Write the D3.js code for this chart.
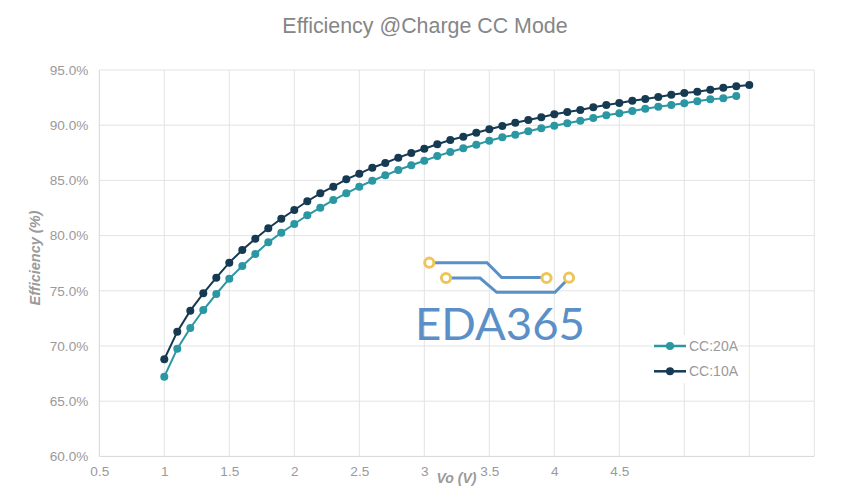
<!DOCTYPE html>
<html>
<head>
<meta charset="utf-8">
<script src="https://cdn.jsdelivr.net/npm/d3@7"></script>
<style>
  html, body { margin: 0; padding: 0; background: #ffffff; }
  svg { display: block; }
  text { font-family: "Liberation Sans", Arial, sans-serif; }
</style>
</head>
<body>
<div id="chart"></div>
<script>
// ---- data ----
const titleText = "Efficiency @Charge CC Mode";
const xTitle = "Vo (V)";
const yTitle = "Efficiency (%)";

const xTickValues = [0.5, 1, 1.5, 2, 2.5, 3, 3.5, 4, 4.5];
const xGridValues = [0.5, 1, 1.5, 2, 2.5, 3, 3.5, 4, 4.5, 5, 5.5, 6];
const yTickValues = [60, 65, 70, 75, 80, 85, 90, 95];

const vo10A = [1.0, 1.1, 1.2, 1.3, 1.4, 1.5, 1.6, 1.7, 1.8, 1.9, 2.0, 2.1, 2.2, 2.3, 2.4, 2.5,
  2.6, 2.7, 2.8, 2.9, 3.0, 3.1, 3.2, 3.3, 3.4, 3.5, 3.6, 3.7, 3.8, 3.9, 4.0, 4.1, 4.2, 4.3,
  4.4, 4.5, 4.6, 4.7, 4.8, 4.9, 5.0, 5.1, 5.2, 5.3, 5.4, 5.5];
const eff10A = [68.8, 71.3, 73.2, 74.77, 76.19, 77.55, 78.7, 79.72, 80.66, 81.53, 82.32, 83.11,
  83.83, 84.43, 85.1, 85.61, 86.15, 86.58, 87.06, 87.48, 87.87, 88.27, 88.66, 88.96, 89.32,
  89.63, 89.93, 90.23, 90.47, 90.72, 90.99, 91.2, 91.38, 91.62, 91.83, 92.01, 92.22, 92.37,
  92.55, 92.76, 92.92, 93.03, 93.22, 93.4, 93.52, 93.64];

const vo20A = [1.0, 1.1, 1.2, 1.3, 1.4, 1.5, 1.6, 1.7, 1.8, 1.9, 2.0, 2.1, 2.2, 2.3, 2.4, 2.5,
  2.6, 2.7, 2.8, 2.9, 3.0, 3.1, 3.2, 3.3, 3.4, 3.5, 3.6, 3.7, 3.8, 3.9, 4.0, 4.1, 4.2, 4.3,
  4.4, 4.5, 4.6, 4.7, 4.8, 4.9, 5.0, 5.1, 5.2, 5.3, 5.4];
const eff20A = [67.22, 69.76, 71.63, 73.26, 74.71, 76.1, 77.25, 78.33, 79.39, 80.26, 81.05,
  81.84, 82.53, 83.22, 83.83, 84.43, 84.97, 85.46, 85.94, 86.37, 86.78, 87.2, 87.57, 87.91,
  88.23, 88.6, 88.9, 89.14, 89.45, 89.72, 89.96, 90.17, 90.41, 90.65, 90.9, 91.08, 91.29,
  91.49, 91.68, 91.83, 91.98, 92.16, 92.34, 92.43, 92.64];

const seriesNames = ["CC:20A", "CC:10A"];
const seriesColors = ["#2a97a3", "#163a52"];

// ---- layout ----
const W = 843, H = 503;
const plot = { left: 99.3, right: 814.3, top: 70, bottom: 456.4 };

const svg = d3.select("#chart").append("svg")
  .attr("width", W).attr("height", H)
  .style("background", "#ffffff");

const x = d3.scaleLinear().domain([0.5, 6]).range([plot.left, plot.right]);
const y = d3.scaleLinear().domain([60, 95]).range([plot.bottom, plot.top]);

// gridlines
const grid = svg.append("g");
grid.selectAll("line.h").data(yTickValues).enter().append("line")
  .attr("x1", plot.left).attr("x2", plot.right)
  .attr("y1", d => y(d)).attr("y2", d => y(d))
  .attr("stroke", d => d === 60 ? "#d6d6d6" : "#e3e3e3").attr("stroke-width", 1);
grid.selectAll("line.v").data(xGridValues).enter().append("line")
  .attr("x1", d => x(d)).attr("x2", d => x(d))
  .attr("y1", plot.top).attr("y2", plot.bottom)
  .attr("stroke", d => d === 0.5 ? "#d6d6d6" : "#e3e3e3").attr("stroke-width", 1);

// axes (labels only)
const xAxis = d3.axisBottom(x).tickValues(xTickValues).tickSize(0).tickPadding(10)
  .tickFormat(d3.format(""));
const gx = svg.append("g").attr("transform", `translate(0,${plot.bottom})`).call(xAxis);
gx.select(".domain").remove();
gx.selectAll("text").attr("fill", "#9a9a9a").style("font-size", "13.6px")
  .style("font-family", "'Liberation Sans', Arial, sans-serif");

const yAxis = d3.axisLeft(y).tickValues(yTickValues).tickSize(0).tickPadding(11)
  .tickFormat(d => d3.format(".1f")(d) + "%");
const gy = svg.append("g").attr("transform", `translate(${plot.left},0)`).call(yAxis);
gy.select(".domain").remove();
gy.selectAll("text").attr("fill", "#9a9a9a").style("font-size", "13.6px")
  .style("font-family", "'Liberation Sans', Arial, sans-serif");

// watermark logo
const logo = svg.append("g");
const blue = "#5b8fc8", yellow = "#edc65a";
logo.append("path")
  .attr("d", "M429.3,262.7 L487,262.7 L501.7,277.5 L546,277.5")
  .attr("fill", "none").attr("stroke", blue).attr("stroke-width", 3);
logo.append("path")
  .attr("d", "M446,278 L480,278 L496.7,292.3 L555,292.3 L569,278")
  .attr("fill", "none").attr("stroke", blue).attr("stroke-width", 3);
[[429.3, 262.7], [446, 278], [546.5, 278], [569, 277.7]].forEach(p => {
  logo.append("circle").attr("cx", p[0]).attr("cy", p[1]).attr("r", 4.6)
    .attr("fill", "#ffffff").attr("stroke", yellow).attr("stroke-width", 3);
});
logo.append("text").attr("x", 415).attr("y", 340)
  .attr("textLength", 170).attr("lengthAdjust", "spacingAndGlyphs")
  .style("font-family", "Lato, 'Open Sans', sans-serif").style("font-size", "44px")
  .style("font-weight", "400").attr("fill", blue).text("EDA365");

// series
const series = [
  { name: seriesNames[0], color: seriesColors[0], xs: vo20A, ys: eff20A },
  { name: seriesNames[1], color: seriesColors[1], xs: vo10A, ys: eff10A }
];
const line = d3.line().x(d => x(d[0])).y(d => y(d[1]));
series.forEach(s => {
  const pts = s.xs.map((v, i) => [v, s.ys[i]]);
  const g = svg.append("g");
  g.append("path").datum(pts).attr("d", line)
    .attr("fill", "none").attr("stroke", s.color).attr("stroke-width", 2);
  g.selectAll("circle").data(pts).enter().append("circle")
    .attr("cx", d => x(d[0])).attr("cy", d => y(d[1])).attr("r", 4)
    .attr("fill", s.color);
});

// legend
const lg = svg.append("g");
lg.append("rect").attr("x", 652).attr("y", 335).attr("width", 86).attr("height", 48)
  .attr("fill", "#ffffff");
series.forEach((s, i) => {
  const ly = 346 + i * 25.3;
  lg.append("line").attr("x1", 654).attr("x2", 686).attr("y1", ly).attr("y2", ly)
    .attr("stroke", s.color).attr("stroke-width", 2.5);
  lg.append("circle").attr("cx", 670).attr("cy", ly).attr("r", 4).attr("fill", s.color);
  lg.append("text").attr("x", 689).attr("y", ly).attr("dy", "0.35em")
    .attr("fill", "#9a9a9a").style("font-size", "14px").text(s.name);
});

// title
svg.append("text").attr("x", 425).attr("y", 26).attr("dy", "0.35em")
  .attr("text-anchor", "middle").attr("fill", "#868686")
  .style("font-size", "21.4px").text(titleText);

// axis titles
svg.append("text").attr("x", 456.5).attr("y", 478).attr("dy", "0.35em")
  .attr("text-anchor", "middle").attr("fill", "#9a9a9a")
  .style("font-size", "14px").style("font-weight", "bold").style("font-style", "italic")
  .text(xTitle);
svg.append("text").attr("transform", "translate(35,258) rotate(-90)").attr("dy", "0.35em")
  .attr("text-anchor", "middle").attr("fill", "#9a9a9a")
  .style("font-size", "14.5px").style("font-weight", "bold").style("font-style", "italic")
  .text(yTitle);
</script>
</body>
</html>
